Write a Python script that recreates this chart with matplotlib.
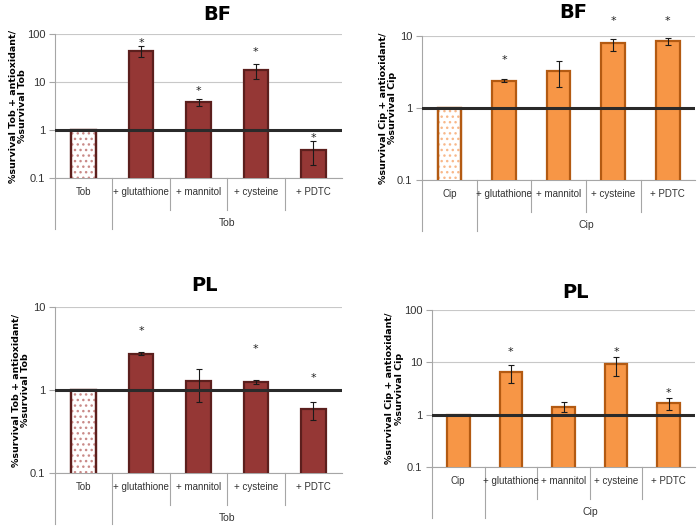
import numpy as np
import matplotlib
matplotlib.use("Agg")
import matplotlib.pyplot as plt
from matplotlib.ticker import FixedLocator, FixedFormatter, NullLocator

plt.rcParams['font.family'] = ['DejaVu Sans']
narrow = ['Liberation Sans Narrow', 'Liberation Sans', 'DejaVu Sans']

# data
tob_cats = ['Tob', '+ glutathione', '+ mannitol', '+ cysteine', '+ PDTC']
cip_cats = ['Cip', '+ glutathione', '+ mannitol', '+ cysteine', '+ PDTC']

tob_bf = [1.0, 45, 3.9, 18, 0.39]
tob_bf_lo = [1.0, 33, 3.2, 11.4, 0.19]
tob_bf_hi = [1.0, 56, 4.5, 24, 0.6]
tob_bf_star = [None, 66, 6.6, 42, 0.68]

cip_bf = [1.0, 2.4, 3.3, 7.9, 8.5]
cip_bf_lo = [1.0, 2.28, 1.94, 6.25, 7.6]
cip_bf_hi = [1.0, 2.5, 4.5, 9.2, 9.4]
cip_bf_star = [None, 4.7, None, 16.3, 16.3]

tob_pl = [1.0, 2.75, 1.28, 1.26, 0.59]
tob_pl_lo = [1.0, 2.63, 0.72, 1.18, 0.44]
tob_pl_hi = [1.0, 2.88, 1.82, 1.31, 0.72]
tob_pl_star = [None, 5.2, None, 3.1, 1.38]

cip_pl = [1.0, 6.4, 1.41, 9.25, 1.68]
cip_pl_lo = [1.0, 3.95, 1.13, 5.5, 1.22]
cip_pl_hi = [1.0, 8.85, 1.76, 12.8, 2.04]
cip_pl_star = [None, 15.5, None, 15.5, 2.65]

red_face, red_edge, red_dot = '#953735', '#5c1f1d', '#c98a88'
org_face, org_edge, org_dot = '#f79646', '#b35a12', '#f8b88a'

fig = plt.figure(figsize=(7, 5.3), dpi=100)


def panel(rect, title, title_x, title_dy, cats, group, vals, lo, hi, stars,
          ylim, face, edge, dot, hatch_first, drug):
    ax = fig.add_axes(rect)
    h_px = rect[3] * 530
    x = np.arange(len(cats))
    w = 0.43
    vals = np.array(vals)
    yerr = np.array([vals - np.array(lo), np.array(hi) - vals])
    yerr[:, 0] = 0
    ax.set_yscale('log')
    ax.set_ylim(*ylim)
    ax.set_xlim(-0.5, len(cats) - 0.5)

    faces = [face] * len(cats)
    if hatch_first:
        faces[0] = 'white'
    ax.bar(x, vals, w, color=faces, edgecolor=edge, linewidth=1.6, zorder=3)
    if hatch_first:
        ax.bar(x[0], vals[0], w, color='none', edgecolor=dot, hatch='...',
               linewidth=0, zorder=3)
        ax.bar(x[0], vals[0], w, color='none', edgecolor=edge, linewidth=1.6, zorder=4)
    ax.errorbar(x[1:], vals[1:], yerr=yerr[:, 1:], fmt='none', ecolor='#1a1a1a',
                elinewidth=0.8, capsize=2.5, capthick=0.8, zorder=5)
    for xi, s in zip(x, stars):
        if s is not None:
            ax.text(xi, s, '*', ha='center', va='center', fontsize=8,
                    color='#222222', zorder=6, clip_on=False)
    ax.axhline(1, color='#2a2a2a', lw=2.2, zorder=5)

    # axes styling
    decades = [10.0 ** k for k in range(int(np.log10(ylim[0])), int(np.log10(ylim[1])) + 1)]
    ax.yaxis.set_major_locator(FixedLocator(decades))
    ax.yaxis.set_major_formatter(FixedFormatter(['%g' % d for d in decades]))
    ax.yaxis.set_minor_locator(NullLocator())
    ax.grid(axis='y', color='#c8c8c8', lw=0.8, zorder=0)
    for sp in ['top', 'right']:
        ax.spines[sp].set_visible(False)
    for sp in ['left', 'bottom']:
        ax.spines[sp].set_color('#a6a6a6')
        ax.spines[sp].set_linewidth(0.8)
    ax.tick_params(axis='y', colors='#a6a6a6', length=4, width=0.8, labelsize=8,
                   labelcolor='#333333', pad=3)
    for lab in ax.get_yticklabels():
        lab.set_family(narrow)
    ax.set_xticks([])
    ax.set_ylabel('%survival ' + drug + ' + antioxidant/\n%survival ' + drug,
                  fontsize=6.8, fontweight='bold', labelpad=0, linespacing=1.05)

    # two level category axis
    tr = ax.get_xaxis_transform()
    f = lambda px: -px / h_px
    for xi, c in zip(x, cats):
        ax.text(xi, f(14), c, transform=tr, ha='center', va='center',
                fontsize=7, family=narrow, color='#333333')
    ax.text((x[1] + x[-1]) / 2, f(45), group, transform=tr, ha='center',
            va='center', fontsize=7.5, family=narrow, color='#333333')
    for xb in [-0.5, 0.5]:
        ax.plot([xb, xb], [0, f(51)], transform=tr, color='#a6a6a6', lw=0.8,
                clip_on=False)
    for xb in [1.5, 2.5, 3.5]:
        ax.plot([xb, xb], [0, f(32)], transform=tr, color='#a6a6a6', lw=0.8,
                clip_on=False)

    ax.text(title_x, 1 + title_dy / h_px, title, transform=ax.transAxes,
            ha='center', va='center', fontsize=14, fontweight='bold')
    return ax


panel([0.0786, 0.664, 0.41, 0.272], 'BF', 0.564, 19, tob_cats, 'Tob',
      tob_bf, tob_bf_lo, tob_bf_hi, tob_bf_star, (0.1, 100),
      red_face, red_edge, red_dot, True, 'Tob')
panel([0.603, 0.660, 0.39, 0.272], 'BF', 0.553, 24, cip_cats, 'Cip',
      cip_bf, cip_bf_lo, cip_bf_hi, cip_bf_star, (0.1, 10),
      org_face, org_edge, org_dot, True, 'Cip')
panel([0.0786, 0.1075, 0.41, 0.313], 'PL', 0.52, 22, tob_cats, 'Tob',
      tob_pl, tob_pl_lo, tob_pl_hi, tob_pl_star, (0.1, 10),
      red_face, red_edge, red_dot, True, 'Tob')
panel([0.617, 0.119, 0.376, 0.296], 'PL', 0.544, 18, cip_cats, 'Cip',
      cip_pl, cip_pl_lo, cip_pl_hi, cip_pl_star, (0.1, 100),
      org_face, org_edge, org_dot, False, 'Cip')

fig.savefig('out.png', dpi=100)
